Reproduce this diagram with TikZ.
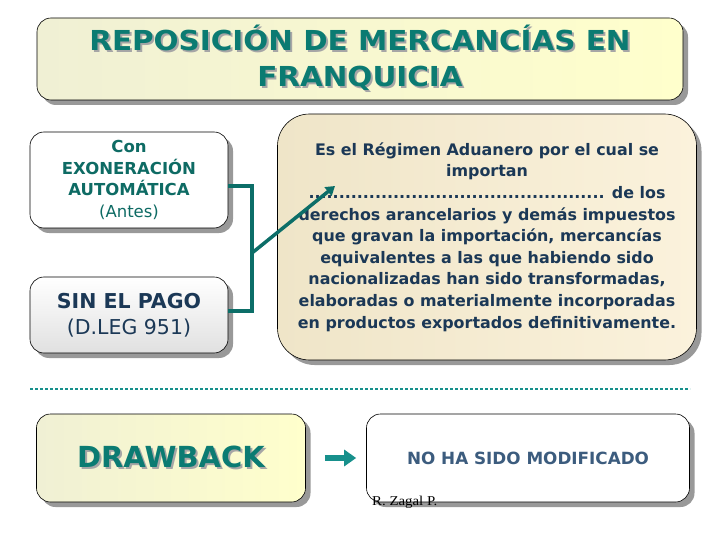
\documentclass[tikz,border=0pt]{standalone}
\usepackage{fontspec}
\setmainfont{DejaVu Sans}
\newfontfamily\headfont[FakeStretch=1.07]{DejaVu Sans}
\newfontfamily\signfont[FakeStretch=1.1]{Liberation Serif}
\usetikzlibrary{shadows,arrows.meta}

\definecolor{headteal}{HTML}{0B7B72}
\definecolor{boxteal}{HTML}{0E6B64}
\definecolor{lineteal}{HTML}{0C6E68}
\definecolor{arrowteal}{HTML}{17908C}
\definecolor{navytext}{HTML}{1B3856}
\definecolor{slatetext}{HTML}{3C5C7E}
\definecolor{paleyellow}{HTML}{FFFFCC}
\definecolor{creamyellow}{HTML}{F0F0D4}
\definecolor{cream}{HTML}{FBF2DC}
\definecolor{creamdark}{HTML}{EFE5C8}

% text with a grey shadow behind it
\newcommand{\shadowtext}[1]{\makebox[0pt][l]{\hspace{2pt}\raisebox{-2pt}{\textcolor{black!35}{#1}}}#1}

\begin{document}
\begin{tikzpicture}
  [x=1pt,y=-1pt,
   boxbase/.style={draw=black,line width=0.6pt,rounded corners=14pt,align=center,
     drop shadow={shadow xshift=5pt,shadow yshift=-5pt,fill=black!40,opacity=1}},
   yellowbox/.style={boxbase,left color=creamyellow,right color=paleyellow},
   whitebox/.style={boxbase,fill=white},
   graybox/.style={boxbase,top color=white,bottom color=black!12},
   creambox/.style={boxbase,rounded corners=32pt,left color=creamdark,right color=cream},
   tealline/.style={draw=lineteal,line width=4pt}]
  \useasboundingbox (0,0) rectangle (720,540);

  \node (title)[yellowbox,minimum width=646pt,minimum height=82pt,
    font=\headfont\bfseries\fontsize{27.5}{36}\selectfont,text=headteal] at (360,59)
    {\shadowtext{REPOSICIÓN DE MERCANCÍAS EN}\\\shadowtext{FRANQUICIA}};

  \node (exon)[whitebox,minimum width=198pt,minimum height=96pt,
    font=\fontsize{16.5}{21.7}\selectfont,text=boxteal] at (129,180)
    {\textbf{Con}\\\textbf{EXONERACIÓN}\\\textbf{AUTOMÁTICA}\\(Antes)};
  \node (pago)[graybox,minimum width=198pt,minimum height=76pt,
    font=\fontsize{20.5}{26}\selectfont,text=navytext] at (129,315)
    {\textbf{SIN EL PAGO}\\(D.LEG 951)};

  \node (rule)[creambox,minimum width=419pt,minimum height=246pt,
    font=\bfseries\fontsize{15.9}{21.6}\selectfont,text=navytext] at (487,237)
    {Es el Régimen Aduanero por el cual se\\importan\\
     ................................................. de los\\
     derechos arancelarios y demás impuestos\\
     que gravan la importación, mercancías\\
     equivalentes a las que habiendo sido\\
     nacionalizadas han sido transformadas,\\
     elaboradas o materialmente incorporadas\\
     en productos exportados definitivamente.};

  \coordinate (join) at (252,253);
  \coordinate (tip) at (335,186);
  \draw[tealline] ([yshift=-6pt]exon.east) -- ++(24,0) |- ([yshift=4pt]pago.east);
  \draw[tealline,line width=3.5pt,-{Triangle[length=9pt,width=11pt]}] (join) -- (tip);

  \coordinate (sepL) at (30,389);
  \coordinate (sepR) at (690,389);
  \draw[arrowteal,line width=1.2pt,dash pattern=on 3pt off 2pt] (sepL) -- (sepR);

  \node (drawback)[yellowbox,minimum width=269pt,minimum height=88pt,
    font=\bfseries\fontsize{29}{34}\selectfont,text=headteal] at (171,458)
    {\shadowtext{DRAWBACK}};
  \node (nomod)[whitebox,minimum width=323pt,minimum height=88pt,
    font=\bfseries\fontsize{16.8}{20}\selectfont,text=slatetext] at (528,458)
    {NO HA SIDO MODIFICADO};
  \draw[arrowteal,line width=6pt,-{Triangle[length=12pt,width=16pt]},
    shorten <=19pt,shorten >=10pt] (drawback.east) -- (nomod.west);

  \node (sign)[anchor=north west,inner sep=0pt,
    font=\signfont\fontsize{13.5}{14}\selectfont] at (372,496) {R. Zagal P.};
\end{tikzpicture}
\end{document}
